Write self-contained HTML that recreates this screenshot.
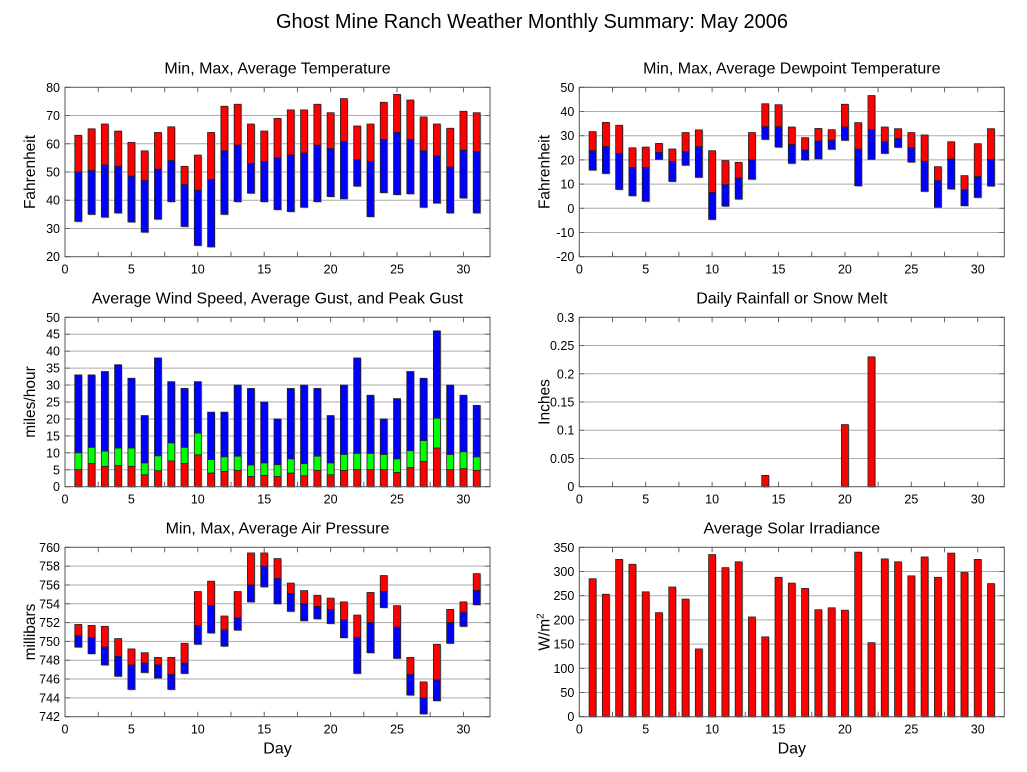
<!DOCTYPE html>
<html><head><meta charset="utf-8"><style>
body{margin:0;background:#fff;font-family:"Liberation Sans",sans-serif}
svg{display:block}
text{font-family:"Liberation Sans",sans-serif;fill:#000}
</style></head><body>
<svg id="c" width="1027" height="772">
<text x="532" y="28" font-size="20" text-anchor="middle">Ghost Mine Ranch Weather Monthly Summary: May 2006</text>
</svg>
<script>
const days=[1,2,3,4,5,6,7,8,9,10,11,12,13,14,15,16,17,18,19,20,21,22,23,24,25,26,27,28,29,30,31];
const tMin=[32.5,35,34,35.5,32.3,28.7,33.3,39.5,30.7,24,23.5,35,39.5,42.5,39.5,36.7,36,37.5,39.5,41.3,40.5,45,34.2,42.7,42,42.3,37.5,39,35.5,40.8,35.5];
const tAvg=[50,50.5,52.5,52,48.5,47,51,54,45.5,43.5,47.3,57.5,59.5,53,53.7,55,56,56.7,59.5,58.3,60.8,54.3,53.7,61.5,64,61.5,57.5,55.7,51.7,57.7,57.3];
const tMax=[63,65.3,67,64.5,60.5,57.5,64,66,52,56,64,73.3,74,67,64.5,69,72,72,74,71,76,66.3,67,74.7,77.5,75.5,69.5,67,65.5,71.5,71];
const dMin=[15.8,14.4,7.8,5.2,2.9,20.2,11.1,17.8,12.8,-4.6,0.9,3.8,12,28.5,25.3,18.6,20,20.4,24.4,28.1,9.3,20.2,22.7,25.2,19.1,7,0.4,8,1.1,4.5,9.2];
const dAvg=[23.8,25.5,22.7,16.8,16.8,23.1,19.3,23.5,25.5,6.5,9.8,12.5,20,33.7,33.7,26.3,24.1,27.8,28.1,33.6,24.4,32.5,27.5,28.8,25,19.4,11.4,20.4,7.6,13.1,20.2];
const dMax=[31.7,35.5,34.3,25,25.3,26.8,24.5,31.3,32.4,23.8,19.7,19,31.3,43.2,42.8,33.6,29.2,33,32.5,43,35.4,46.6,33.6,32.9,31.3,30.3,17.2,27.5,13.5,26.7,32.9];
const wAvg=[5,6.8,6,6.2,6,3.5,4.7,7.6,6.8,9.4,4,4.5,4.8,3,3.3,3,4,3.2,4.8,3.5,4.8,5,5,5,4.2,5.6,7.4,11.4,5,5.3,4.8];
const wGust=[10,11.6,10.5,11.4,11.4,7,9.1,12.9,11.6,15.8,8,8.8,9,6.4,7,6.5,8.2,6.8,9,7,9.5,9.8,9.8,9.5,8.2,10.6,13.6,20.2,9.5,10.3,8.8];
const wPeak=[33,33,34,36,32,21,38,31,29,31,22,22,30,29,25,20,29,30,29,21,30,38,27,20,26,34,32,46,30,27,24];
const rain=[0,0,0,0,0,0,0,0,0,0,0,0,0,0.02,0,0,0,0,0,0.11,0,0.23,0,0,0,0,0,0,0,0,0];
const pMin=[749.4,748.7,747.5,746.3,744.9,746.7,746.1,744.9,746.6,749.7,750.9,749.5,751.2,754.2,755.8,754,753.2,752.2,752.4,751.9,750.4,746.6,748.8,753.6,748.2,744.3,742.3,743.7,749.8,751.6,753.9];
const pAvg=[750.6,750.4,749.4,748.4,747.5,747.7,747.5,746.5,747.7,751.7,753.8,751.2,752.5,756,758,756.7,755.1,754,753.7,753.4,752.3,750.4,752,755.3,751.5,746.5,744,745.9,752,753.1,755.4];
const pMax=[751.8,751.7,751.6,750.3,749.2,748.8,748.3,748.3,749.8,755.3,756.4,752.7,755.3,759.4,759.4,758.8,756.2,755.4,754.9,754.6,754.2,752.8,755.2,757,753.8,748.3,745.7,749.7,753.4,754.2,757.2];
const solar=[285,253,325,315,258,215,268,243,140,335,308,320,206,165,288,276,265,221,225,220,340,153,326,320,291,330,288,338,298,325,275];
const xTicks=[0,5,10,15,20,25,30];

const NS="http://www.w3.org/2000/svg";
const svg=document.getElementById('c');
function mk(tag,attrs,parent){const e=document.createElementNS(NS,tag);for(const k in attrs)e.setAttribute(k,attrs[k]);(parent||svg).appendChild(e);return e;}

function panel(name,L,T,ymin,ymax,ystep,title,ylabel,dec,showDay){
  const W=425,H=169.4;
  const g=mk('g',{});
  
  
  const x=v=>L+v/32*W;
  const y=v=>T+H-(v-ymin)/(ymax-ymin)*H;
  mk('rect',{x:L,y:T,width:W,height:H,fill:'#fff',stroke:'none'},g);
  const n=Math.round((ymax-ymin)/ystep);
  for(let i=0;i<=n;i++){
    const v=ymin+i*ystep,yy=y(v);
    if(i>0&&i<n){const gl=mk('line',{x1:L,x2:L+W,y1:yy,y2:yy,stroke:'#aaa','stroke-width':1},g);
      }
    mk('line',{x1:L,x2:L+5,y1:yy,y2:yy,stroke:'#666'},g);
    mk('line',{x1:L+W-5,x2:L+W,y1:yy,y2:yy,stroke:'#666'},g);
    const t=mk('text',{x:L-5,y:yy+4.5,'font-size':12.5,'text-anchor':'end'},g);
    t.textContent=dec?String(parseFloat(v.toFixed(dec))):v.toFixed(0);
    
  }
  for(let d=0;d<=32;d+=2.5){
    mk('line',{x1:x(d),x2:x(d),y1:T+H,y2:T+H-5,stroke:'#666'},g);
    mk('line',{x1:x(d),x2:x(d),y1:T,y2:T+5,stroke:'#666'},g);
  }
  xTicks.forEach(d=>{const t=mk('text',{x:x(d),y:T+H+17,'font-size':12.5,'text-anchor':'middle'},g);t.textContent=d;
    });
  const tt=mk('text',{x:L+W/2,y:T-14,'font-size':16,'text-anchor':'middle'},g);tt.textContent=title;
  
  const yl=mk('text',{x:0,y:0,'font-size':15.5,'text-anchor':'middle',transform:`translate(${L-30},${T+H/2}) rotate(-90)`},g);
  yl.innerHTML=ylabel;
  
  if(showDay){const dl=mk('text',{x:L+W/2,y:T+H+37,'font-size':16,'text-anchor':'middle'},g);dl.textContent='Day';
    }
  const bars=mk('g',{},g);
  function bar(d,lo,hi,color,nm){
    const bw=7,x0=x(d)-bw/2,y0=y(hi),y1=y(lo);
    if(y1-y0<0.5)return;
    mk('rect',{x:x0+1,y:y0+1,width:bw,height:y1-y0,fill:'#bbb'},bars);
    const r=mk('rect',{x:x0,y:y0,width:bw,height:y1-y0,fill:color,stroke:'#222','stroke-width':0.8},bars);
    
    
  }
  mk('rect',{x:L,y:T,width:W,height:H,fill:'none',stroke:'#555','stroke-width':1},g);
  return {bar};
}
const P1=panel('temperature',65,87.3,20,80,10,'Min, Max, Average Temperature','Fahrenheit',0,false);
days.forEach((d,i)=>{P1.bar(d,tAvg[i],tMax[i],'#f00','temp-max-bar');P1.bar(d,tMin[i],tAvg[i],'#00f','temp-min-bar');});
const P2=panel('dewpoint',579.3,87.3,-20,50,10,'Min, Max, Average Dewpoint Temperature','Fahrenheit',0,false);
days.forEach((d,i)=>{P2.bar(d,dAvg[i],dMax[i],'#f00','dew-max-bar');P2.bar(d,dMin[i],dAvg[i],'#00f','dew-min-bar');});
const P3=panel('wind',65,317.3,0,50,5,'Average Wind Speed, Average Gust, and Peak Gust','miles/hour',0,false);
days.forEach((d,i)=>{P3.bar(d,wGust[i],wPeak[i],'#00f','peak-gust-bar');P3.bar(d,wAvg[i],wGust[i],'#0f0','avg-gust-bar');P3.bar(d,0,wAvg[i],'#f00','avg-wind-bar');});
const P4=panel('rainfall',579.3,317.3,0,0.3,0.05,'Daily Rainfall or Snow Melt','Inches',2,false);
days.forEach((d,i)=>{P4.bar(d,0,rain[i],'#f00','rain-bar');});
const P5=panel('pressure',65,547.3,742,760,2,'Min, Max, Average Air Pressure','millibars',0,true);
days.forEach((d,i)=>{P5.bar(d,pAvg[i],pMax[i],'#f00','pressure-max-bar');P5.bar(d,pMin[i],pAvg[i],'#00f','pressure-min-bar');});
const P6=panel('solar',579.3,547.3,0,350,50,'Average Solar Irradiance','W/m<tspan dy="-6" font-size="10">2</tspan>',0,true);
days.forEach((d,i)=>{P6.bar(d,0,solar[i],'#f00','solar-bar');});
</script>
</body></html>
